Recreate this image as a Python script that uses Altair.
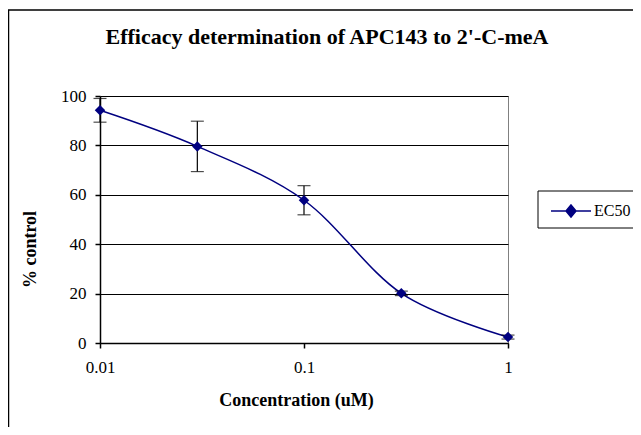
import altair as alt
import pandas as pd

conc = [0.01, 0.03, 0.1, 0.3, 1.0]
pct = [94.2, 79.6, 57.8, 20.1, 2.4]
err = [4.8, 10.2, 5.9, 0.9, 0.8]
series = ["EC50"] * 5
y_ticks = [0, 20, 40, 60, 80, 100]
x_ticks = [0.01, 0.1, 1]
title_text = "Efficacy determination of APC143 to 2'-C-meA"

df = pd.DataFrame({
    "conc": conc,
    "pct": pct,
    "lo": [p - e for p, e in zip(pct, err)],
    "hi": [p + e for p, e in zip(pct, err)],
    "series": series,
})

FONT = "Liberation Serif, Times New Roman, Times, DejaVu Serif, serif"
NAVY = "#000080"

xenc = alt.X("conc:Q", scale=alt.Scale(type="log", domain=[0.01, 1]),
             axis=alt.Axis(values=x_ticks, format="~g", grid=False,
                           title="Concentration (uM)", titleX=196, titleY=62,
                           titleBaseline="alphabetic", tickSize=5, labelFlush=False,
                           labelPadding=11, labelFontSize=17))
yscale = alt.Scale(domain=[0, 100], nice=False)

base = alt.Chart(df)

border = alt.Chart(pd.DataFrame({"a": [0]})).mark_rect(
    fillOpacity=0, stroke="black", strokeWidth=1.5
).encode(x=alt.value(-91.5), x2=alt.value(560), y=alt.value(-86), y2=alt.value(360))

legend_box = alt.Chart(pd.DataFrame({"a": [0]})).mark_rect(
    fill="white", stroke="black", strokeWidth=1
).encode(x=alt.value(438), x2=alt.value(560), y=alt.value(95), y2=alt.value(132))

line = base.mark_line(interpolate="cardinal", strokeWidth=1.5).encode(
    x=xenc,
    y=alt.Y("pct:Q", scale=yscale,
            axis=alt.Axis(values=y_ticks, title="% control", titleX=-65,
                          titleY=153, titleBaseline="alphabetic", titleAngle=-90,
                          titleAlign="center", tickSize=5, labelPadding=9,
                          labelFontSize=17, gridColor="#000000", gridWidth=1)),
    color=alt.Color("series:N", scale=alt.Scale(range=[NAVY]),
                    legend=alt.Legend(title=None, orient="none", legendX=450, legendY=94,
                                      padding=0,
                                      symbolType="M-1,0H1M0,-0.3L0.25,0L0,0.3L-0.25,0Z",
                                      symbolSize=1600, symbolStrokeWidth=1.5,
                                      symbolFillColor=NAVY, labelFont=FONT,
                                      labelFontSize=16, labelColor="black", labelOffset=2)),
)

rules = base.mark_rule(color="black", strokeWidth=1.2).encode(
    x="conc:Q", y=alt.Y("lo:Q", scale=yscale), y2="hi:Q"
)
caps_hi = base.mark_tick(color="black", orient="horizontal", size=13, thickness=1.2).encode(
    x="conc:Q", y=alt.Y("hi:Q", scale=yscale)
)
caps_lo = base.mark_tick(color="black", orient="horizontal", size=13, thickness=1.2).encode(
    x="conc:Q", y=alt.Y("lo:Q", scale=yscale)
)
points = base.mark_point(shape="diamond", filled=True, size=110, opacity=1).encode(
    x="conc:Q", y=alt.Y("pct:Q", scale=yscale),
    color=alt.Color("series:N", scale=alt.Scale(range=[NAVY]), legend=None)
)

title = alt.Chart(pd.DataFrame({"t": [title_text]})).mark_text(
    font=FONT, fontSize=22, fontWeight="bold", align="center", baseline="alphabetic",
    color="black"
).encode(text="t:N", x=alt.value(227), y=alt.value(-52))

chart = alt.layer(border, legend_box, line, rules, caps_hi, caps_lo, points, title).properties(
    width=408, height=247,
    autosize=alt.AutoSizeParams(type="none"),
    padding={"left": 92, "top": 88, "right": 125, "bottom": 84},
).configure_view(stroke="#808080", strokeWidth=1).configure_axis(
    labelFont=FONT, titleFont=FONT, titleFontSize=18, titleFontWeight="bold",
    labelColor="black", titleColor="black", domainColor="black", tickColor="black",
    domainWidth=1.5, tickWidth=1.5
)

chart.save("out.html", embed_options={"renderer": "svg", "actions": False})
